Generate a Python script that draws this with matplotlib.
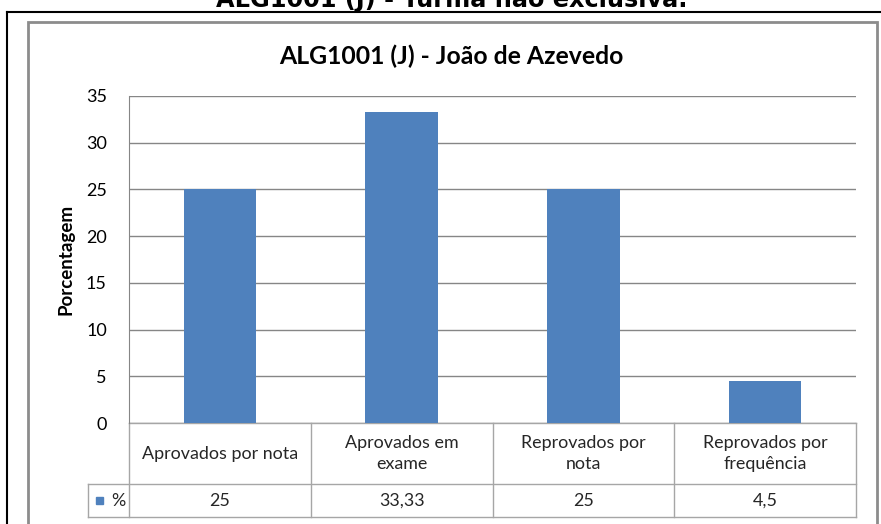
import matplotlib
matplotlib.use("Agg")
import matplotlib.pyplot as plt
from matplotlib.patches import Rectangle
from matplotlib.lines import Line2D

# dados
categorias = ["Aprovados por nota", "Aprovados em\nexame", "Reprovados por\nnota", "Reprovados por\nfrequência"]
valores = [25, 33.33, 25, 4.5]
rotulos_valores = ["25", "33,33", "25", "4,5"]
yticks = [0, 5, 10, 15, 20, 25, 30, 35]

W, H = 881, 524
cor_barra = "#4F81BD"
cor_grade = "#868686"
cor_tabela = "#A6A6A6"
fonte = "Lato"

fig = plt.figure(figsize=(W / 100, H / 100), dpi=100)

def fx(px):
    return px / W

def fy(py):
    return 1 - py / H

# linhas pretas externas (caixa da pagina)
fig.add_artist(Line2D([fx(7), fx(7)], [fy(11.5), 0], color="black", lw=1.5))
fig.add_artist(Line2D([fx(7), 1], [fy(11.5), fy(11.5)], color="black", lw=1.5))

# borda cinza do grafico
fig.add_artist(Rectangle((fx(27.5), fy(540)), fx(877) - fx(27.5), fy(22) - fy(540),
                         fill=False, edgecolor="#8C8C8C", lw=2))

# titulo cortado no topo
fig.text(fx(451.5), fy(7.5), "ALG1001 (J) - Turma não exclusiva.", ha="center", va="baseline",
         fontsize=17.3, fontweight="bold", family="DejaVu Sans")

fig.text(fx(451), fy(64), "ALG1001 (J) - João de Azevedo", ha="center", va="baseline",
         fontsize=17.8, fontweight="bold", family=fonte, color="#000000")

ax = fig.add_axes([fx(129), fy(423), fx(856) - fx(129), fy(96) - fy(423)])
x = list(range(len(valores)))
ax.bar(x, valores, width=0.4, color=cor_barra, zorder=3)
ax.set_xlim(-0.5, 3.5)
ax.set_ylim(0, 35)
ax.set_yticks(yticks)
ax.set_yticklabels([str(v) for v in yticks], fontsize=13, family=fonte)
ax.tick_params(axis="y", length=0, pad=16)
ax.set_xticks([])
ax.grid(axis="y", color=cor_grade, lw=1, zorder=0)
for s in ["top", "right", "bottom"]:
    ax.spines[s].set_visible(False)
ax.spines["left"].set_color(cor_grade)
ax.set_ylabel("Porcentagem", fontsize=13.5, fontweight="bold", family=fonte, labelpad=8)

# tabela de dados abaixo do eixo
tr = ax.get_xaxis_transform()
h_px = 423 - 96
y1 = -(484 - 423) / h_px
y2 = -(517 - 423) / h_px
x_leg = -0.5 - (129 - 88) / 181.75

def linha(xs, ys):
    ax.add_line(Line2D(xs, ys, transform=tr, color=cor_tabela, lw=1, clip_on=False))

linha([-0.5, 3.5], [0, 0])
linha([x_leg, 3.5], [y1, y1])
linha([x_leg, 3.5], [y2, y2])
linha([x_leg, x_leg], [y1, y2])
for b in [-0.5, 0.5, 1.5, 2.5, 3.5]:
    linha([b, b], [0, y2])

for i, (c, r) in enumerate(zip(categorias, rotulos_valores)):
    ax.text(i, y1 / 2, c, transform=tr, ha="center", va="center", fontsize=12.9,
            family=fonte, color="#262626", linespacing=1.35)
    ax.text(i, (y1 + y2) / 2, r, transform=tr, ha="center", va="center", fontsize=12.9,
            family=fonte, color="#262626")

# legenda dentro da tabela
ax.add_patch(Rectangle((x_leg + 0.045, (y1 + y2) / 2 - 0.012), 0.04, 0.024, transform=tr,
                       color=cor_barra, clip_on=False))
ax.text(x_leg + 0.13, (y1 + y2) / 2, "%", transform=tr, ha="left", va="center",
        fontsize=12.9, family=fonte, color="#262626")

fig.savefig("out.png", dpi=100)
